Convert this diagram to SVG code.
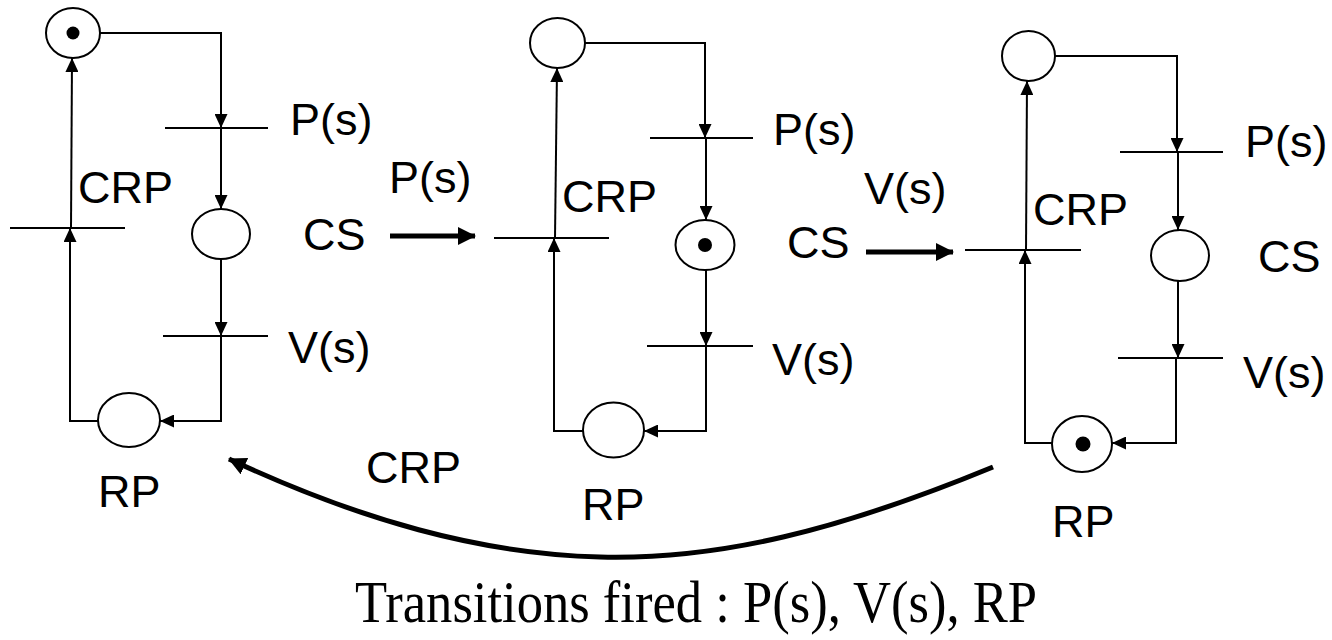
<svg xmlns="http://www.w3.org/2000/svg" width="1332" height="640" viewBox="0 0 1332 640">
  <defs>
    <marker id="ah" markerUnits="userSpaceOnUse" markerWidth="14" markerHeight="13" refX="14" refY="6.5" orient="auto">
      <path d="M0,0 L14,6.5 L0,13 z" fill="#000"/>
    </marker>
    <marker id="ahb" markerUnits="userSpaceOnUse" markerWidth="18" markerHeight="18" refX="17" refY="9" orient="auto">
      <path d="M0,0 L18,9 L0,18 z" fill="#000"/>
    </marker>
  </defs>
  <style>
    .place { fill: #fff; stroke: #000; stroke-width: 2; }
    .token { fill: #000; }
    .trans { stroke: #000; stroke-width: 2; }
    .arc { fill: none; stroke: #000; stroke-width: 2; marker-end: url(#ah); }
    .big { fill: none; stroke: #000; stroke-width: 5; marker-end: url(#ahb); }
    .lbl { font-family: "Liberation Sans", Arial, sans-serif; font-size: 45px; fill: #000; }
    .cap { font-family: "Liberation Serif", "Times New Roman", serif; font-size: 60px; fill: #000; }
  </style>

  <g id="connectors">
    <!-- net 1 -->
    <path class="arc" d="M100,33 H221 V128"/>
    <path class="arc" d="M221,128 V209"/>
    <path class="arc" d="M221,259 V336"/>
    <path class="arc" d="M221,336 V421 H160"/>
    <path class="arc" d="M98,421 H70 V228"/>
    <path class="arc" d="M71,228 L72,58"/>
    <!-- net 2 -->
    <path class="arc" d="M585,43 H705 V138"/>
    <path class="arc" d="M706,138 V220"/>
    <path class="arc" d="M706,270 V346"/>
    <path class="arc" d="M706,346 V431 H644"/>
    <path class="arc" d="M583,431 H554 V238"/>
    <path class="arc" d="M555,238 L557,68"/>
    <!-- net 3 -->
    <path class="arc" d="M1055,56 H1177 V152"/>
    <path class="arc" d="M1178,152 V230"/>
    <path class="arc" d="M1178,281 V358"/>
    <path class="arc" d="M1176,358 V443 H1112"/>
    <path class="arc" d="M1052,443 H1025 V250"/>
    <path class="arc" d="M1026,250 L1027,81"/>
    <!-- state change arrows -->
    <path class="big" d="M390,236 H475"/>
    <path class="big" d="M866,252 H953"/>
    <path class="big" d="M993,467 C840,530 720,560 600,557 C480,554 360,520 229,459"/>
  </g>

  <g id="net1">
    <g id="n1-top"><ellipse class="place" cx="73" cy="33" rx="27" ry="25"/><circle class="token" cx="73" cy="33" r="6.5"/></g>
    <g id="n1-tp"><line class="trans" x1="165" y1="128" x2="268" y2="128"/><text class="lbl" x="290" y="135">P(s)</text></g>
    <g id="n1-cs"><ellipse class="place" cx="221" cy="234" rx="29" ry="25"/><text class="lbl" x="303" y="250">CS</text></g>
    <g id="n1-tv"><line class="trans" x1="163" y1="336" x2="268" y2="336"/><text class="lbl" x="288" y="363">V(s)</text></g>
    <g id="n1-rp"><ellipse class="place" cx="129" cy="420" rx="31" ry="27"/><text class="lbl" x="98" y="507">RP</text></g>
    <g id="n1-crp"><line class="trans" x1="10" y1="228" x2="125" y2="228"/><text class="lbl" x="78" y="203">CRP</text></g>
  </g>

  <g id="net2">
    <g id="n2-top"><ellipse class="place" cx="557.5" cy="43" rx="27.5" ry="25"/></g>
    <g id="n2-tp"><line class="trans" x1="650" y1="138" x2="753" y2="138"/><text class="lbl" x="773" y="145">P(s)</text></g>
    <g id="n2-cs"><ellipse class="place" cx="705" cy="245" rx="29.5" ry="25"/><circle class="token" cx="705" cy="245" r="7"/><text class="lbl" x="787" y="258">CS</text></g>
    <g id="n2-tv"><line class="trans" x1="647" y1="346" x2="753" y2="346"/><text class="lbl" x="772" y="375">V(s)</text></g>
    <g id="n2-rp"><ellipse class="place" cx="613.5" cy="430" rx="30.5" ry="27.5"/><text class="lbl" x="582" y="520">RP</text></g>
    <g id="n2-crp"><line class="trans" x1="494" y1="238" x2="609" y2="238"/><text class="lbl" x="562" y="212">CRP</text></g>
  </g>

  <g id="net3">
    <g id="n3-top"><ellipse class="place" cx="1028.5" cy="56" rx="26.5" ry="25"/></g>
    <g id="n3-tp"><line class="trans" x1="1120" y1="152" x2="1223" y2="152"/><text class="lbl" x="1245" y="157">P(s)</text></g>
    <g id="n3-cs"><ellipse class="place" cx="1180" cy="255.5" rx="29" ry="25.5"/><text class="lbl" x="1258" y="272">CS</text></g>
    <g id="n3-tv"><line class="trans" x1="1118" y1="358" x2="1223" y2="358"/><text class="lbl" x="1243" y="388">V(s)</text></g>
    <g id="n3-rp"><ellipse class="place" cx="1082" cy="444" rx="30" ry="28"/><circle class="token" cx="1083" cy="444" r="7.5"/><text class="lbl" x="1052" y="537">RP</text></g>
    <g id="n3-crp"><line class="trans" x1="965" y1="250" x2="1081" y2="250"/><text class="lbl" x="1033" y="225">CRP</text></g>
  </g>

  <g id="labels">
    <text class="lbl" x="389" y="193">P(s)</text>
    <text class="lbl" x="864" y="204">V(s)</text>
    <text class="lbl" x="366" y="483">CRP</text>
    <text class="cap" x="355" y="622" textLength="682" lengthAdjust="spacingAndGlyphs">Transitions fired : P(s), V(s), RP</text>
  </g>
</svg>
